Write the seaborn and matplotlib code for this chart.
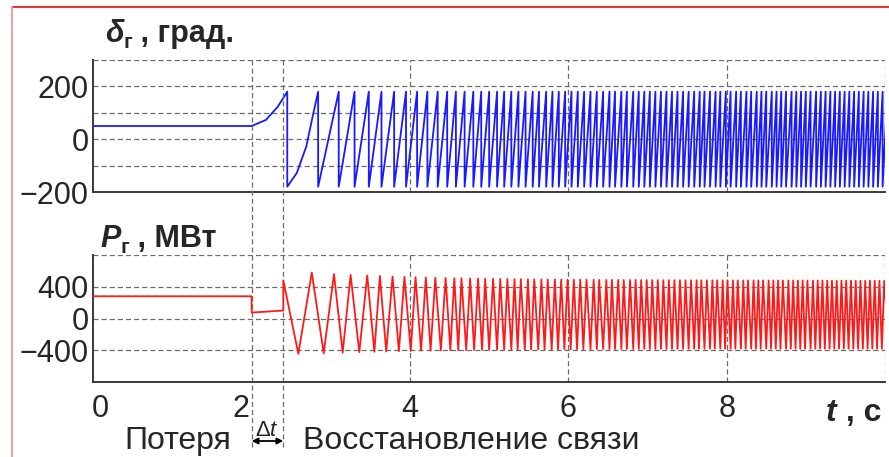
import seaborn as sns
import matplotlib.pyplot as plt
import matplotlib.lines as mlines
import matplotlib.transforms as mtransforms
import pandas as pd

# ========================================================
#                   DATA
# ========================================================

# rotor angle delta, degrees: steady state and loss of connection
delta_pre_t = [0.0, 2.0, 2.18, 2.33, 2.45]
delta_pre_v = [50, 50, 73, 123, 180]

# first slip cycle after reconnection
delta_c1_t = [2.45, 2.57, 2.69, 2.77, 2.84]
delta_c1_v = [-180, -128, -28, 85, 180]

# moments where the angle jumps from +180 to -180
delta_wrap_t = [
    2.84, 3.10, 3.30, 3.48, 3.64, 3.80, 3.95, 4.09, 4.22, 4.35,
    4.47, 4.58, 4.69, 4.80, 4.90, 5.00, 5.10, 5.19, 5.28, 5.37,
    5.46, 5.55, 5.63, 5.72, 5.80, 5.88, 5.96, 6.04, 6.12, 6.20,
    6.28, 6.36, 6.44, 6.52, 6.59, 6.67, 6.74, 6.82, 6.89, 6.96,
    7.03, 7.10, 7.17, 7.24, 7.31, 7.38, 7.45, 7.52, 7.59, 7.66,
    7.72, 7.79, 7.86, 7.92, 7.99, 8.05, 8.12, 8.18, 8.25, 8.31,
    8.38, 8.44, 8.50, 8.57, 8.63, 8.69, 8.75, 8.82, 8.88, 8.94,
    9.00, 9.06, 9.13, 9.19, 9.25, 9.31, 9.37, 9.43, 9.49, 9.55,
    9.61, 9.67, 9.73, 9.79, 9.85, 9.91, 9.97, 10.03,
]
delta_top = 180
delta_bottom = -180

# generator power P, MW: steady state and loss of connection
p_pre_t = [0.0, 2.0, 2.0, 2.4, 2.4]
p_pre_v = [280, 280, 75, 100, 480]

# troughs (one before every peak)
p_trough_t = [
    2.59, 2.91, 3.15, 3.36, 3.55, 3.70, 3.86, 4.01, 4.14, 4.26,
    4.39, 4.51, 4.61, 4.71, 4.81, 4.91, 5.00, 5.10, 5.19, 5.28,
    5.36, 5.45, 5.53, 5.62, 5.70, 5.79, 5.87, 5.95, 6.03, 6.11,
    6.19, 6.28, 6.36, 6.44, 6.52, 6.59, 6.67, 6.74, 6.82, 6.89,
    6.96, 7.03, 7.10, 7.17, 7.24, 7.31, 7.38, 7.45, 7.52, 7.59,
    7.65, 7.72, 7.79, 7.85, 7.92, 7.98, 8.05, 8.11, 8.18, 8.24,
    8.31, 8.37, 8.43, 8.50, 8.56, 8.62, 8.68, 8.75, 8.81, 8.87,
    8.93, 8.99, 9.06, 9.12, 9.18, 9.24, 9.30, 9.36, 9.42, 9.48,
    9.54, 9.60, 9.66, 9.72, 9.78, 9.84, 9.90, 9.96, 10.05,
]
p_trough_v = [
    -445, -440, -432, -425, -420, -416, -412, -409, -406, -404,
    -402, -400, -399, -398, -397, -396, -395, -394, -393, -392,
    -391, -390, -390, -389, -389, -388, -388, -387, -387, -386,
    -386, -386, -385, -385, -385, -384, -384, -384, -384, -383,
    -383, -383, -383, -382, -382, -382, -382, -382, -381, -381,
    -381, -381, -381, -380, -380, -380, -380, -380, -380, -380,
    -380, -380, -380, -380, -380, -380, -380, -380, -380, -380,
    -380, -380, -380, -380, -380, -380, -380, -380, -380, -380,
    -380, -380, -380, -380, -380, -380, -380, -380, -380,
]

p_peak_t = [
    2.76, 3.04, 3.25, 3.46, 3.62, 3.78, 3.93, 4.07, 4.20, 4.32,
    4.45, 4.56, 4.65, 4.76, 4.86, 4.95, 5.05, 5.14, 5.23, 5.32,
    5.40, 5.49, 5.57, 5.66, 5.74, 5.83, 5.91, 5.99, 6.07, 6.15,
    6.23, 6.32, 6.39, 6.48, 6.55, 6.63, 6.70, 6.78, 6.85, 6.92,
    6.99, 7.06, 7.13, 7.20, 7.27, 7.34, 7.41, 7.48, 7.55, 7.62,
    7.68, 7.75, 7.82, 7.88, 7.95, 8.01, 8.08, 8.14, 8.21, 8.27,
    8.34, 8.40, 8.46, 8.53, 8.59, 8.65, 8.71, 8.78, 8.84, 8.90,
    8.96, 9.02, 9.09, 9.15, 9.21, 9.27, 9.33, 9.39, 9.45, 9.51,
    9.57, 9.63, 9.69, 9.75, 9.81, 9.87, 9.93, 9.99,
]
p_peak_v = [
    580, 560, 550, 542, 536, 530, 525, 520, 516, 513,
    510, 508, 506, 504, 502, 500, 499, 498, 497, 496,
    495, 494, 493, 492, 491, 490, 490, 489, 489, 488,
    488, 487, 487, 486, 486, 486, 485, 485, 485, 484,
    484, 484, 484, 483, 483, 483, 483, 482, 482, 482,
    482, 482, 481, 481, 481, 481, 481, 480, 480, 480,
    480, 480, 480, 479, 479, 479, 479, 479, 479, 478,
    478, 478, 478, 478, 478, 477, 477, 477, 477, 477,
    477, 476, 476, 476, 476, 476, 476, 475,
]

x_ticks = [0, 2, 4, 6, 8, 10]
x_tick_labels = ["0", "2", "4", "6", "8", ""]
d_ticks = [-200, -100, 0, 100, 200, 300]
d_tick_labels = ["\u2212200", "", "0", "", "200", ""]
p_ticks = [-800, -400, 0, 400, 800]
p_tick_labels = ["", "\u2212400", "0", "400", ""]

# ========================================================
#                   BUILD LINES
# ========================================================

d_t = delta_pre_t + delta_c1_t
d_v = delta_pre_v + delta_c1_v
for w in delta_wrap_t:
    d_t += [w, w]
    d_v += [delta_top, delta_bottom]
delta_df = pd.DataFrame({"t": d_t, "v": d_v})

pt = list(p_pre_t)
pv = list(p_pre_v)
for i in range(len(p_trough_t)):
    pt.append(p_trough_t[i])
    pv.append(p_trough_v[i])
    if i < len(p_peak_t):
        pt.append(p_peak_t[i])
        pv.append(p_peak_v[i])
power_df = pd.DataFrame({"t": pt, "v": pv})

# ========================================================
#                   FIGURE
# ========================================================

sns.set_style("white")
plt.rcParams["font.family"] = ["Liberation Sans", "DejaVu Sans"]

W, H = 889, 457
fig = plt.figure(figsize=(W / 100, H / 100), dpi=100)
fig.patch.set_facecolor("white")

ax_d = fig.add_axes([93.3 / W, 1 - 192 / H, 791.7 / W, 132 / H])
ax_p = fig.add_axes([93.3 / W, 1 - 382 / H, 791.7 / W, 127 / H])

grid_kw = dict(color="#6a6a6a", linestyle=(0, (4, 2.5)), linewidth=0.9)
axis_col = "#3a3a3a"

sns.lineplot(data=delta_df, x="t", y="v", sort=False, estimator=None,
             color="#1a1aff", linewidth=1.3, ax=ax_d, zorder=3)
sns.lineplot(data=power_df, x="t", y="v", sort=False, estimator=None,
             color="#ff1a1a", linewidth=1.3, ax=ax_p, zorder=3)

ax_d.set_ylim(-200, 300)
ax_d.set_yticks(d_ticks)
ax_d.set_yticklabels(d_tick_labels)
ax_d.set_yticks([-150, -50, 50, 150, 250], minor=True)

ax_p.set_ylim(-800, 800)
ax_p.set_yticks(p_ticks)
ax_p.set_yticklabels(p_tick_labels)
ax_p.set_yticks([-600, -200, 200, 600], minor=True)

for ax in (ax_d, ax_p):
    ax.set_xlim(0, 10)
    ax.set_xticks(x_ticks)
    ax.set_xticklabels(x_tick_labels)
    ax.set_xticks([1, 3, 5, 7, 9], minor=True)
    ax.set_xlabel("")
    ax.set_ylabel("")
    ax.set_facecolor("white")
    for s in ["top", "right"]:
        ax.spines[s].set_visible(False)
    for s in ["left", "bottom"]:
        ax.spines[s].set_color(axis_col)
        ax.spines[s].set_linewidth(1.4)
    ax.tick_params(which="both", direction="in", color=axis_col, labelsize=22)
    ax.tick_params(which="major", length=5, width=1)
    ax.tick_params(which="minor", length=4, width=1)
    ax.tick_params(axis="y", pad=3.5)
    ax.tick_params(axis="x", pad=8.5)
    ax.grid(axis="y", **grid_kw)
    ax.grid(axis="x", visible=False)
    for xv in [4, 6, 8, 10]:
        ax.axvline(xv, zorder=1, **grid_kw)

ax_d.tick_params(axis="x", labelbottom=False)

# long dashed lines at the loss and at the reconnection
for xv in [2.0, 2.4]:
    ax_p.axvline(xv, ymin=(382 - 447) / 127, ymax=(382 - 60) / 127,
                 clip_on=False, zorder=1, **grid_kw)

# shift the "0" and "2" labels like in the picture
labels = ax_p.get_xticklabels()
labels[0].set_transform(labels[0].get_transform() +
                        mtransforms.ScaledTranslation(5 / 72, 0, fig.dpi_scale_trans))
labels[1].set_transform(labels[1].get_transform() +
                        mtransforms.ScaledTranslation(-8 / 72, 0, fig.dpi_scale_trans))

# ========================================================
#                   TEXTS
# ========================================================

fig.canvas.draw()
renderer = fig.canvas.get_renderer()


def put_chain(x_px, base_px, parts):
    # parts: (text, size, weight, style, shift down in px)
    x = x_px
    for s, size, weight, style, dy in parts:
        t = fig.text(x / W, 1 - (base_px + dy) / H, s, fontsize=size,
                     fontweight=weight, fontstyle=style,
                     ha="left", va="baseline")
        x = t.get_window_extent(renderer).x1


put_chain(105, 42, [("\u03b4", 22, "bold", "italic", 0),
                    ("\u0433", 15, "bold", "normal", 6),
                    (" , град.", 22, "bold", "normal", 0)])
put_chain(100, 247, [("P", 22, "bold", "italic", 0),
                     ("\u0433", 15, "bold", "normal", 6),
                     (" , МВт", 22, "bold", "normal", 0)])
put_chain(826, 421, [("t", 23, "bold", "italic", 0),
                     (" , с", 23, "bold", "normal", 0)])
put_chain(255, 436, [("\u0394", 16, "normal", "normal", 0),
                     ("t", 16, "normal", "italic", 0)])

fig.text(124 / W, 1 - 449 / H, "Потеря", fontsize=23, va="baseline")
fig.text(303 / W, 1 - 449 / H, "Восстановление связи", fontsize=23, va="baseline")

# arrow for delta t
ax_p.annotate("", xy=(2.4, (382 - 441) / 127), xytext=(2.0, (382 - 441) / 127),
              xycoords=("data", "axes fraction"),
              textcoords=("data", "axes fraction"),
              arrowprops=dict(arrowstyle="<|-|>", color="black", lw=1.3,
                              shrinkA=0, shrinkB=0, mutation_scale=9),
              annotation_clip=False)

# slide frame
fig.add_artist(mlines.Line2D([11.7 / W, 1], [1 - 7.3 / H, 1 - 7.3 / H],
                             color="#d93a3a", lw=1.5))
fig.add_artist(mlines.Line2D([11.7 / W, 11.7 / W], [0, 1 - 7.3 / H],
                             color="#eaa5a5", lw=1.5))

plt.savefig("out.png", dpi=100)
